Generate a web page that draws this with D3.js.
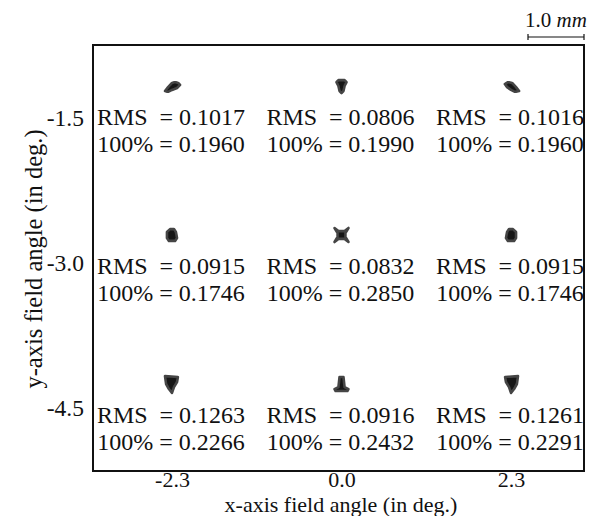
<!DOCTYPE html>
<head>
    <style>
        body { margin: 0; background: #fff; }
        svg { background-color: #fff; }
        text { font-family: "Liberation Serif", "Times New Roman", serif; fill: #111; }
        rect.frame { fill: none; stroke: #111; stroke-width: 2px; }
        path.spot { fill: #161616; stroke: #444; stroke-width: 2.6px; stroke-linejoin: round; }
        .axis path, .axis line { display: none; }
    </style>
</head>
<body>
    <script src="https://cdnjs.cloudflare.com/ajax/libs/d3/7.8.5/d3.min.js"></script>
    <script>
        // field angles (deg)
        var xAngles = [-2.3, 0.0, 2.3];
        var yAngles = [-1.5, -3.0, -4.5];
        var xTickLabels = ['-2.3', '0.0', '2.3'];
        var yTickLabels = ['-1.5', '-3.0', '-4.5'];

        // spot sizes, row by row (mm)
        var rmsValues = [0.1017, 0.0806, 0.1016,
                         0.0915, 0.0832, 0.0915,
                         0.1263, 0.0916, 0.1261];
        var fullValues = [0.1960, 0.1990, 0.1960,
                          0.1746, 0.2850, 0.1746,
                          0.2266, 0.2432, 0.2291];

        // spot outlines, offsets from chief ray in mm
        var spotShapes = [
            [[-0.125, 0.09], [-0.07, 0.02], [0, -0.055], [0.055, -0.07], [0.11, -0.055], [0.145, -0.02], [0.09, 0.035], [0, 0.07], [-0.07, 0.105]],
            [[-0.09, -0.07], [-0.055, -0.105], [0.055, -0.105], [0.09, -0.07], [0.055, 0], [0.035, 0.09], [0, 0.125], [-0.035, 0.09], [-0.055, 0]],
            [[-0.11, -0.035], [-0.055, -0.07], [0.02, -0.055], [0.09, 0.02], [0.145, 0.09], [0.07, 0.105], [0, 0.07], [-0.07, 0.02]],
            [[-0.09, -0.055], [-0.035, -0.105], [0.035, -0.105], [0.07, -0.055], [0.09, 0.055], [0.055, 0.105], [-0.055, 0.105], [-0.09, 0.055]],
            [[-0.125, -0.125], [-0.055, -0.07], [0.055, -0.07], [0.125, -0.125], [0.07, -0.035], [0.07, 0.035], [0.125, 0.125], [0.055, 0.07], [-0.055, 0.07], [-0.125, 0.125], [-0.07, 0.035], [-0.07, -0.035]],
            [[-0.07, -0.055], [-0.035, -0.105], [0.035, -0.105], [0.09, -0.055], [0.09, 0.055], [0.055, 0.105], [-0.055, 0.105], [-0.09, 0.055]],
            [[-0.125, -0.14], [0.105, -0.125], [0.09, -0.035], [0.035, 0.055], [0, 0.16], [-0.055, 0.09], [-0.105, 0]],
            [[-0.035, -0.125], [0.035, -0.125], [0.055, 0.055], [0.125, 0.09], [0.105, 0.125], [-0.105, 0.125], [-0.125, 0.09], [-0.055, 0.055]],
            [[-0.105, -0.125], [0.125, -0.14], [0.105, 0], [0.055, 0.09], [0, 0.16], [-0.035, 0.055], [-0.09, -0.035]]
        ];

        var scaleBarMm = 1.0;

        var W = 605, H = 516;
        var box = {'left': 93, 'right': 584, 'top': 45, 'bottom': 471};

        var svg = d3.select('body')
                    .append('svg')
                    .attr('width', W)
                    .attr('height', H);

        var defs = svg.append('defs');
        defs.append('filter')
            .attr('id', 'soft')
            .append('feGaussianBlur')
            .attr('stdDeviation', 0.6);

        var x_scale = d3.scaleLinear()
                        .domain([-2.3, 2.3])
                        .range([172, 511]);
        var y_spot = d3.scaleLinear()
                       .domain([-1.5, -4.5])
                       .range([86, 384]);
        var y_tick = d3.scaleLinear()
                       .domain([-1.5, -4.5])
                       .range([118, 408]);
        var mm = d3.scaleLinear()
                   .domain([0, 1])
                   .range([0, 56]);

        svg.append('rect')
           .attr('class', 'frame')
           .attr('x', box.left)
           .attr('y', box.top)
           .attr('width', box.right - box.left)
           .attr('height', box.bottom - box.top);

        var cells = [];
        yAngles.forEach(function(ya, r) {
            xAngles.forEach(function(xa, c) {
                var i = r * 3 + c;
                cells.push({'x': xa, 'y': ya, 'rms': rmsValues[i],
                            'full': fullValues[i], 'shape': spotShapes[i]});
            });
        });

        var line = d3.line()
                     .x(d => mm(d[0]))
                     .y(d => mm(d[1]))
                     .curve(d3.curveLinearClosed);

        var cell = svg.selectAll('g.cell')
                      .data(cells)
                      .enter()
                      .append('g')
                      .attr('class', 'cell')
                      .attr('transform', d => 'translate(' + x_scale(d.x) + ',' + y_spot(d.y) + ')');

        cell.append('path')
            .attr('class', 'spot')
            .attr('filter', 'url(#soft)')
            .attr('d', d => line(d.shape));

        cell.append('text')
            .attr('x', -1)
            .attr('y', 39)
            .attr('text-anchor', 'middle')
            .style('font-size', '24px')
            .style('white-space', 'pre')
            .text(d => 'RMS  = ' + d.rms.toFixed(4));

        cell.append('text')
            .attr('x', -1)
            .attr('y', 66)
            .attr('text-anchor', 'middle')
            .style('font-size', '24px')
            .text(d => '100% = ' + d.full.toFixed(4));

        // axes
        var xAxis = d3.axisBottom(x_scale)
                      .tickValues(xAngles)
                      .tickFormat((d, i) => xTickLabels[i])
                      .tickSize(0)
                      .tickPadding(0);
        svg.append('g')
           .attr('class', 'axis')
           .attr('transform', 'translate(0,' + box.bottom + ')')
           .call(xAxis)
           .selectAll('text')
           .attr('fill', '#111')
           .style('font-size', '22px')
           .style('font-family', '"Liberation Serif", serif');

        var yAxis = d3.axisLeft(y_tick)
                      .tickValues(yAngles)
                      .tickFormat((d, i) => yTickLabels[i])
                      .tickSize(0)
                      .tickPadding(9);
        svg.append('g')
           .attr('class', 'axis')
           .attr('transform', 'translate(' + box.left + ',0)')
           .call(yAxis)
           .selectAll('text')
           .attr('fill', '#111')
           .style('font-size', '23.5px')
           .style('font-family', '"Liberation Serif", serif');

        svg.append('text')
           .attr('x', 341)
           .attr('y', 512)
           .attr('text-anchor', 'middle')
           .style('font-size', '22px')
           .text('x-axis field angle (in deg.)');

        svg.append('text')
           .attr('transform', 'translate(42,259) rotate(-90)')
           .attr('text-anchor', 'middle')
           .style('font-size', '24.5px')
           .text('y-axis field angle (in deg.)');

        // scale bar
        var bar = svg.append('g')
                     .attr('transform', 'translate(' + (box.right - mm(scaleBarMm)) + ',37)');
        bar.append('line')
           .attr('x1', 0).attr('x2', mm(scaleBarMm))
           .attr('stroke', '#111').attr('stroke-width', 1.2);
        [0, scaleBarMm].forEach(function(v) {
            bar.append('line')
               .attr('x1', mm(v)).attr('x2', mm(v))
               .attr('y1', -3).attr('y2', 3)
               .attr('stroke', '#111').attr('stroke-width', 1.2);
        });
        var lbl = bar.append('text')
                     .attr('x', mm(scaleBarMm) / 2)
                     .attr('y', -10)
                     .attr('text-anchor', 'middle')
                     .style('font-size', '21px');
        lbl.append('tspan').text(scaleBarMm.toFixed(1) + ' ');
        lbl.append('tspan').style('font-style', 'italic').text('mm');
    </script>
</body>
